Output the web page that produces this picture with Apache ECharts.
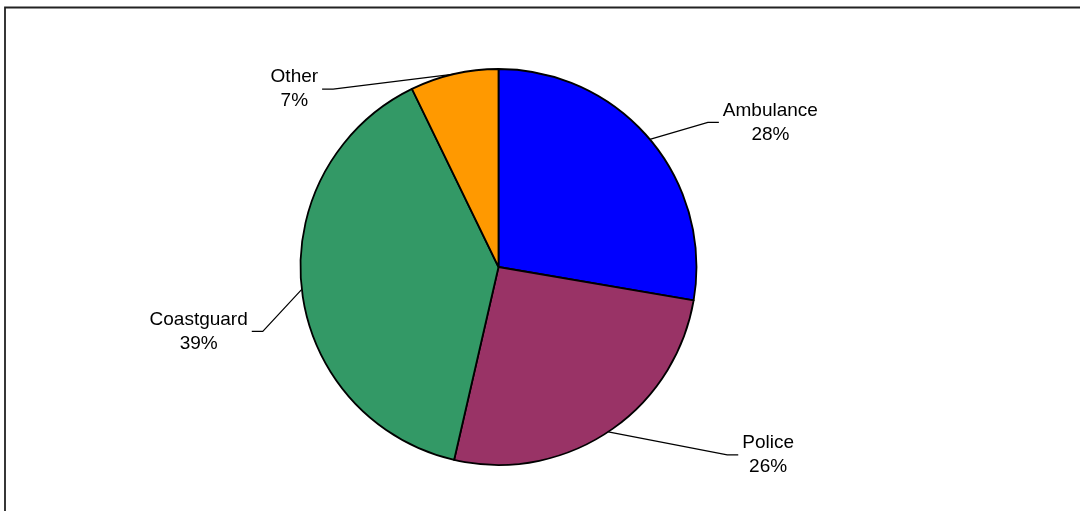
<!DOCTYPE html>
<html>
<head>
<meta charset="utf-8">
<script src="https://cdn.jsdelivr.net/npm/echarts@6/dist/echarts.min.js"></script>
<style>
html,body{margin:0;padding:0;background:#fff;}
#chart{width:1080px;height:511px;}
</style>
</head>
<body>
<div id="chart"></div>
<script>
const categories = ['Ambulance', 'Police', 'Coastguard', 'Other'];
const values = [27.7, 25.9, 39.2, 7.2];
const colors = ['#0000FF', '#993366', '#339966', '#FF9900'];

// leader-line elbow offsets (relative to slice edge), per label
const elbowOffsets = [[58, -17], [119, 23], [-39, 42], [-121, 15]];
const segLen = 11;
const textGap = 4;

const chart = echarts.init(document.getElementById('chart'), null, {renderer: 'canvas'});

const option = {
  animation: false,
  backgroundColor: '#ffffff',
  graphic: [{
    type: 'rect',
    silent: true,
    shape: {x: 5, y: 7.5, width: 1200, height: 700},
    style: {fill: 'none', stroke: '#222', lineWidth: 1.8}
  }],
  series: [{
    type: 'pie',
    center: [498.5, 267],
    radius: 198,
    startAngle: 90,
    clockwise: true,
    avoidLabelOverlap: false,
    emphasis: {disabled: true},
    itemStyle: {borderColor: '#000', borderWidth: 1.8},
    label: {
      show: true,
      position: 'outside',
      fontFamily: 'Liberation Sans, Arial, sans-serif',
      fontSize: 19,
      lineHeight: 24,
      color: '#000',
      align: 'center',
      formatter: p => p.name + '\n' + Math.round(p.percent) + '%'
    },
    labelLine: {
      show: true,
      length: 20,
      length2: 10,
      smooth: false,
      lineStyle: {color: '#000', width: 1.2}
    },
    labelLayout: function (params) {
      const i = params.dataIndex;
      const edge = params.labelLinePoints[0];
      const off = elbowOffsets[i];
      const elbow = [edge[0] + off[0], edge[1] + off[1]];
      const dir = off[0] >= 0 ? 1 : -1;
      const end = [elbow[0] + dir * segLen, elbow[1]];
      const w = params.labelRect.width;
      return {
        x: end[0] + dir * (textGap + w / 2),
        y: elbow[1],
        align: 'center',
        verticalAlign: 'middle',
        labelLinePoints: [edge, elbow, end]
      };
    },
    data: categories.map((c, i) => ({name: c, value: values[i], itemStyle: {color: colors[i]}}))
  }]
};
chart.setOption(option);
</script>
</body>
</html>
